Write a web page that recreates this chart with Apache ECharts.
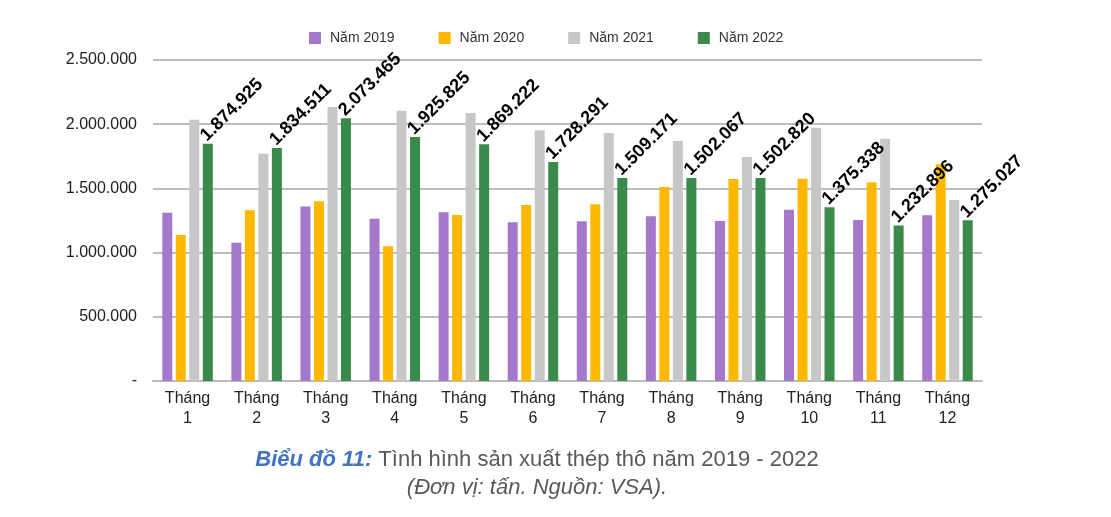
<!DOCTYPE html>
<html>
<head>
<meta charset="utf-8">
<script src="https://cdn.jsdelivr.net/npm/echarts@6/dist/echarts.min.js"></script>
<style>
html,body{margin:0;padding:0;background:#fff;}
#chart{width:1111px;height:517px;}
</style>
</head>
<body>
<div id="chart"></div>
<script>
const categories = ['Tháng\n1','Tháng\n2','Tháng\n3','Tháng\n4','Tháng\n5','Tháng\n6','Tháng\n7','Tháng\n8','Tháng\n9','Tháng\n10','Tháng\n11','Tháng\n12'];
const seriesNames = ['Năm 2019','Năm 2020','Năm 2021','Năm 2022'];
const y2019 = [1311000, 1077000, 1360000, 1264000, 1314000, 1236000, 1244000, 1283000, 1246000, 1334000, 1254000, 1290000];
const y2020 = [1137000, 1329000, 1399000, 1049000, 1293000, 1371000, 1376000, 1511000, 1573000, 1576000, 1547000, 1688000];
const y2021 = [2035000, 1770000, 2134000, 2105000, 2087000, 1952000, 1931000, 1869000, 1745000, 1973000, 1887000, 1410000];
const y2022 = [1848000, 1815000, 2046000, 1900000, 1843000, 1706000, 1581000, 1581000, 1581000, 1353000, 1212000, 1251000];
const labels2022 = ['1.874.925','1.834.511','2.073.465','1.925.825','1.869.222','1.728.291','1.509.171','1.502.067','1.502.820','1.375.338','1.232.896','1.275.027'];
const yTicks = {min: 0, max: 2500000, interval: 500000};
const captionTitle = 'Biểu đồ 11:';
const captionText = ' Tình hình sản xuất thép thô năm 2019 - 2022';
const captionSub = '(Đơn vị: tấn. Nguồn: VSA).';

const FONT = 'Liberation Sans, Arial, sans-serif';
const colors = ['#A478CA', '#FFB800', '#C6C7C6', '#3A8B4B'];

function fmtDots(v){
  if (v === 0) return '-';
  return String(v).replace(/\B(?=(\d{3})+(?!\d))/g, '.');
}

const chart = echarts.init(document.getElementById('chart'));
const allData = [y2019, y2020, y2021, y2022];

const series = allData.map((d, i) => {
  const s = {
    name: seriesNames[i],
    type: 'bar',
    data: d,
    barWidth: 10,
    barGap: '35%',
    itemStyle: {color: colors[i]}
  };
  if (i === 3) {
    s.label = {
      show: true,
      position: 'top',
      distance: 4,
      rotate: 45,
      align: 'left',
      verticalAlign: 'middle',
      offset: [-2, -4],
      fontFamily: FONT,
      fontWeight: 'bold',
      fontSize: 18,
      color: '#000',
      formatter: p => labels2022[p.dataIndex]
    };
  }
  return s;
});

chart.setOption({
  animation: false,
  color: colors,
  title: [
    {
      text: '{b|' + captionTitle + '}{n|' + captionText + '}',
      left: 532, top: 444, textAlign: 'center',
      textStyle: {
        fontWeight: 'normal',
        rich: {
          b: {fontFamily: FONT, fontSize: 22, fontWeight: 'bold', fontStyle: 'italic', color: '#4472C4'},
          n: {fontFamily: FONT, fontSize: 22, fontWeight: 'normal', color: '#595959'}
        }
      }
    },
    {
      text: captionSub,
      left: 532, top: 472, textAlign: 'center',
      textStyle: {fontFamily: FONT, fontSize: 22, fontStyle: 'italic', fontWeight: 'normal', color: '#595959'}
    }
  ],
  legend: {
    left: 304, top: 26,
    icon: 'rect', itemWidth: 12, itemHeight: 12, itemGap: 44,
    textStyle: {fontFamily: FONT, fontSize: 14, color: '#333', padding: [0,0,0,4]},
    data: seriesNames
  },
  grid: {left: 153, right: 129, top: 60, bottom: 136},
  xAxis: {
    type: 'category',
    data: categories,
    axisLine: {lineStyle: {color: '#BBBBBB', width: 2}},
    axisTick: {show: false},
    axisLabel: {fontFamily: FONT, fontSize: 16, color: '#222', lineHeight: 20, margin: 8, interval: 0}
  },
  yAxis: {
    type: 'value',
    min: yTicks.min, max: yTicks.max, interval: yTicks.interval,
    axisLine: {show: false},
    axisTick: {show: false},
    splitLine: {lineStyle: {color: '#BDBDBD', width: 2}},
    axisLabel: {fontFamily: FONT, fontSize: 16, color: '#222', margin: 16, formatter: fmtDots}
  },
  series: series
});
</script>
</body>
</html>
